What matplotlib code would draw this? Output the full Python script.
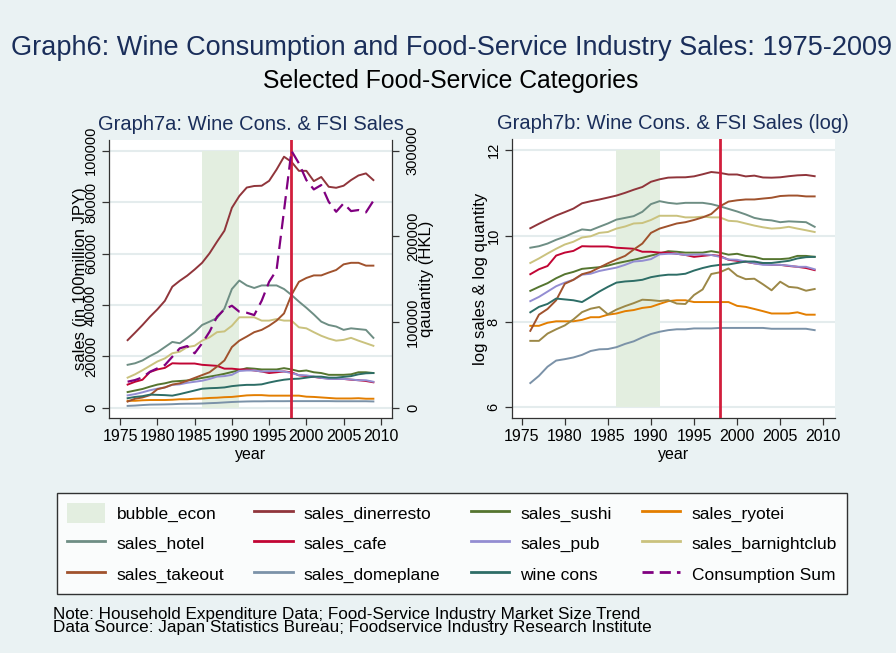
import numpy as np
import matplotlib.pyplot as plt
from matplotlib.patches import Patch
from matplotlib.lines import Line2D

plt.rcParams['font.family'] = ['Liberation Sans', 'DejaVu Sans']

# ---- data ----
years = np.arange(1976, 2010)
bubble_start, bubble_end = 1986, 1991
crash_year = 1998

sales_dinerresto = [26300, 29200, 32200, 35400, 38300, 41600, 47100, 49400, 51400, 53800,
                    56400, 60100, 64600, 68900, 77800, 82400, 85700, 86300, 86400, 88300,
                    92700, 97700, 95700, 92200, 92200, 88200, 89800, 86000, 85600, 86400,
                    88600, 90400, 91200, 88600]
sales_sushi = [6100, 6700, 7300, 8200, 9000, 9500, 10200, 10400, 10600, 11000,
               11600, 12100, 12600, 13200, 13900, 14600, 15400, 15200, 14900, 14900,
               14900, 15400, 14900, 14200, 14500, 13800, 13500, 12800, 12800, 12800,
               13000, 13800, 13800, 13500]
sales_ryotei = [2700, 2700, 2900, 3000, 3000, 3000, 3100, 3300, 3300, 3500,
                3600, 3800, 3900, 4100, 4200, 4500, 4800, 4900, 4900, 4700,
                4700, 4700, 4700, 4700, 4300, 4200, 4000, 3800, 3600, 3600,
                3600, 3700, 3500, 3500]
sales_hotel = [16700, 17300, 18400, 20100, 21600, 23600, 25600, 25100, 27200, 29400,
               32200, 33500, 34900, 38600, 46200, 49500, 47600, 46600, 47600, 47600,
               47600, 46200, 43900, 41300, 38900, 36300, 33500, 32200, 31600, 30300,
               30900, 30600, 30300, 27200]
sales_cafe = [9000, 10100, 10900, 13900, 14900, 15500, 17300, 17200, 17200, 17200,
              16700, 16500, 16300, 15200, 15200, 14900, 14900, 14500, 14100, 13500,
              13800, 14100, 13800, 12600, 12300, 12000, 11600, 11400, 11200, 11200,
              10900, 10700, 10400, 9900]
sales_pub = [4800, 5300, 6000, 6800, 7400, 7900, 8900, 9100, 9700, 10100,
             10500, 11200, 12100, 12300, 12800, 14300, 14500, 14500, 14100, 14200,
             14300, 14100, 13500, 12700, 12600, 12100, 11600, 11200, 11200, 11200,
             11000, 10700, 10700, 10100]
sales_barnightclub = [11700, 13000, 14600, 16300, 18000, 19200, 21200, 21800, 23600, 24100,
                      26100, 27400, 29400, 29700, 31900, 35200, 35200, 35200, 33900, 33900,
                      34500, 33900, 33900, 31300, 30900, 29400, 28000, 26900, 26100, 26400,
                      27200, 26100, 25100, 24100]
sales_takeout = [2400, 3500, 4000, 4900, 7200, 7900, 9000, 9500, 10500, 11600,
                 12700, 13800, 16000, 18400, 23600, 26100, 27700, 29400, 30300, 31900,
                 33900, 36700, 43900, 49000, 50500, 51500, 51500, 52600, 53600, 55800,
                 56400, 56400, 55300, 55300]
sales_domeplane = [710, 840, 1040, 1200, 1240, 1290, 1370, 1500, 1560, 1570,
                   1640, 1770, 1880, 2060, 2230, 2350, 2440, 2490, 2490, 2540,
                   2540, 2540, 2570, 2570, 2570, 2570, 2570, 2570, 2520, 2520,
                   2520, 2520, 2520, 2440]
wine_cons = [3700, 4200, 4500, 5100, 5000, 4900, 4700, 5300, 6000, 6700,
             7400, 7600, 7700, 7900, 8400, 8700, 8900, 8900, 9100, 9800,
             10400, 10900, 11200, 11300, 11700, 12100, 12100, 11700, 11700, 12000,
             12300, 13000, 13400, 13500]
consumption_sum = [30400, 32300, 35500, 42000, 46000, 49800, 59500, 69300, 72000, 63500,
                   75200, 88700, 106200, 114800, 119100, 112100, 110900, 108200, 124900, 147000,
                   160700, 230000, 300000, 285300, 265800, 254900, 260000, 240500, 228800, 238600,
                   229600, 230800, 228100, 241600]
# extra log series shown only in Graph7b
log_quantity = [7.55, 7.55, 7.72, 7.82, 7.91, 8.05, 8.22, 8.30, 8.34, 8.17,
                8.28, 8.36, 8.43, 8.51, 8.50, 8.48, 8.50, 8.42, 8.41, 8.62,
                8.75, 9.11, 9.15, 9.24, 9.07, 8.99, 9.00, 8.87, 8.73, 8.93,
                8.81, 8.79, 8.72, 8.76]

series = [('sales_dinerresto', sales_dinerresto, '#90353b'),
          ('sales_sushi', sales_sushi, '#55752f'),
          ('sales_ryotei', sales_ryotei, '#e37e00'),
          ('sales_hotel', sales_hotel, '#6e8e84'),
          ('sales_cafe', sales_cafe, '#c10534'),
          ('sales_pub', sales_pub, '#938dd2'),
          ('sales_barnightclub', sales_barnightclub, '#cac27e'),
          ('sales_takeout', sales_takeout, '#a0522d'),
          ('sales_domeplane', sales_domeplane, '#7b92a8'),
          ('wine cons', wine_cons, '#2d6d66')]

BG = '#eaf2f3'
NAVY = '#1a2e5a'
SHADE = '#e3eee0'
VLINE = '#d21e3c'
GRID = '#e4eced'
AXC = '#333333'
LW = 1.4

W, H = 896, 653
fig = plt.figure(figsize=(W / 100, H / 100), dpi=100, facecolor=BG)


def style_axes(ax):
    ax.set_facecolor('white')
    for s in ['top', 'right']:
        ax.spines[s].set_visible(False)
    for s in ['left', 'bottom']:
        ax.spines[s].set_color(AXC)
        ax.spines[s].set_linewidth(0.9)
    ax.tick_params(axis='both', direction='out', length=5, width=0.9, color=AXC, pad=3)
    ax.grid(axis='y', color=GRID, linewidth=1.5)
    ax.set_axisbelow(True)


# ---- Graph7a ----
ax1 = fig.add_axes([109 / W, 1 - 418 / H, 283 / W, 278 / H])
style_axes(ax1)
ax1.fill_between([bubble_start, bubble_end], 0, 100000, color=SHADE, lw=0, zorder=1)
for name, vals, col in series:
    ax1.plot(years, vals, color=col, lw=LW, zorder=2)
ax1.axvline(crash_year, color=VLINE, lw=2, zorder=3)
ax1.set_xlim(1973.5, 2011.5)
ax1.set_ylim(-4000, 104200)
ax1.set_xticks(range(1975, 2011, 5))
ax1.set_xticklabels([str(y) for y in range(1975, 2011, 5)], fontsize=11.5)
ax1.set_yticks(range(0, 100001, 20000), [str(v) for v in range(0, 100001, 20000)],
               rotation=90, va='center', fontsize=10.5)
ax1.set_ylabel('sales (in 100million JPY)', fontsize=12, va='center')
ax1.yaxis.set_label_coords((80 - 109) / 283, 0.5)
ax1.set_xlabel('year', fontsize=11.5, va='center')
ax1.xaxis.set_label_coords(0.5, (418 - 455) / 278)
ax1.set_title('Graph7a: Wine Cons. & FSI Sales', fontsize=14.5, color=NAVY, pad=7)

ax2 = ax1.twinx()
ax2.patch.set_visible(False)
for s in ['top', 'left', 'bottom']:
    ax2.spines[s].set_visible(False)
ax2.spines['right'].set_color(AXC)
ax2.spines['right'].set_linewidth(0.9)
ax2.tick_params(axis='y', direction='out', length=5, width=0.9, color=AXC, pad=5)
ax2.plot(years, consumption_sum, color='#800080', lw=1.6, dashes=(6, 3), zorder=4)
ax2.set_ylim(-12000, 312600)
ax2.set_yticks(range(0, 300001, 100000), [str(v) for v in range(0, 300001, 100000)],
               rotation=90, va='center', fontsize=10.5)
ax2.set_ylabel('qauantity (HKL)', fontsize=12, va='center', rotation=90)
ax2.yaxis.set_label_coords((426.7 - 109) / 283, 0.5)

# ---- Graph7b ----
ax3 = fig.add_axes([511.7 / W, 1 - 418 / H, 323.3 / W, 279 / H])
style_axes(ax3)
ax3.fill_between([bubble_start, bubble_end], 6, 12, color=SHADE, lw=0, zorder=1)
for name, vals, col in series:
    ax3.plot(years, np.log(vals), color=col, lw=LW, zorder=2)
ax3.plot(years, log_quantity, color='#9c8847', lw=LW, zorder=2)
ax3.axvline(crash_year, color=VLINE, lw=2, zorder=3)
ax3.set_xlim(1973.84, 2011.36)
ax3.set_ylim(5.75, 12.26)
ax3.set_xticks(range(1975, 2011, 5))
ax3.set_xticklabels([str(y) for y in range(1975, 2011, 5)], fontsize=11.5)
ax3.set_yticks([6, 8, 10, 12], ['6', '8', '10', '12'], rotation=90, va='center', fontsize=10.5)
ax3.set_ylabel('log sales & log quantity', fontsize=12, va='center')
ax3.yaxis.set_label_coords((480 - 511.7) / 323.3, 0.5)
ax3.set_xlabel('year', fontsize=11.5, va='center')
ax3.xaxis.set_label_coords(0.5, (418 - 455) / 279)
ax3.set_title('Graph7b: Wine Cons. & FSI Sales (log)', fontsize=14.5, color=NAVY, pad=7)

# ---- titles ----
fig.text(451 / W, 1 - 55 / H, 'Graph6: Wine Consumption and Food-Service Industry Sales: 1975-2009',
         ha='center', va='baseline', fontsize=19.5, color=NAVY)
fig.text(451 / W, 1 - 88 / H, 'Selected Food-Service Categories',
         ha='center', va='baseline', fontsize=17.8, color='black')

# ---- legend (row-major order like the original, 4 columns) ----
handles = [Patch(facecolor=SHADE, edgecolor='none', label='bubble_econ')]
handles += [Line2D([], [], color=col, lw=LW + 0.6, label=name) for name, vals, col in series]
handles += [Line2D([], [], color='#800080', lw=2.0, dashes=(4, 2.2), label='Consumption Sum')]
ncol, nrow = 4, 3
ordered = [handles[r * ncol + c] for c in range(ncol) for r in range(nrow)]
leg = fig.legend(handles=ordered, ncol=ncol, loc='center', bbox_to_anchor=(452 / W, 1 - 543.5 / H),
                 fontsize=12.5, frameon=True, fancybox=False, edgecolor='black',
                 handlelength=2.2, handleheight=1.4, handletextpad=0.65,
                 columnspacing=1.75, labelspacing=0.62, borderpad=0.55)
leg.get_frame().set_linewidth(1.0)

# ---- notes ----
fig.text(53 / W, 1 - 619 / H, 'Note: Household Expenditure Data; Food-Service Industry Market Size Trend',
         va='baseline', fontsize=12.3)
fig.text(53 / W, 1 - 632 / H, 'Data Source: Japan Statistics Bureau; Foodservice Industry Research Institute',
         va='baseline', fontsize=12.3)

fig.savefig('out.png', dpi=100, facecolor=BG)
